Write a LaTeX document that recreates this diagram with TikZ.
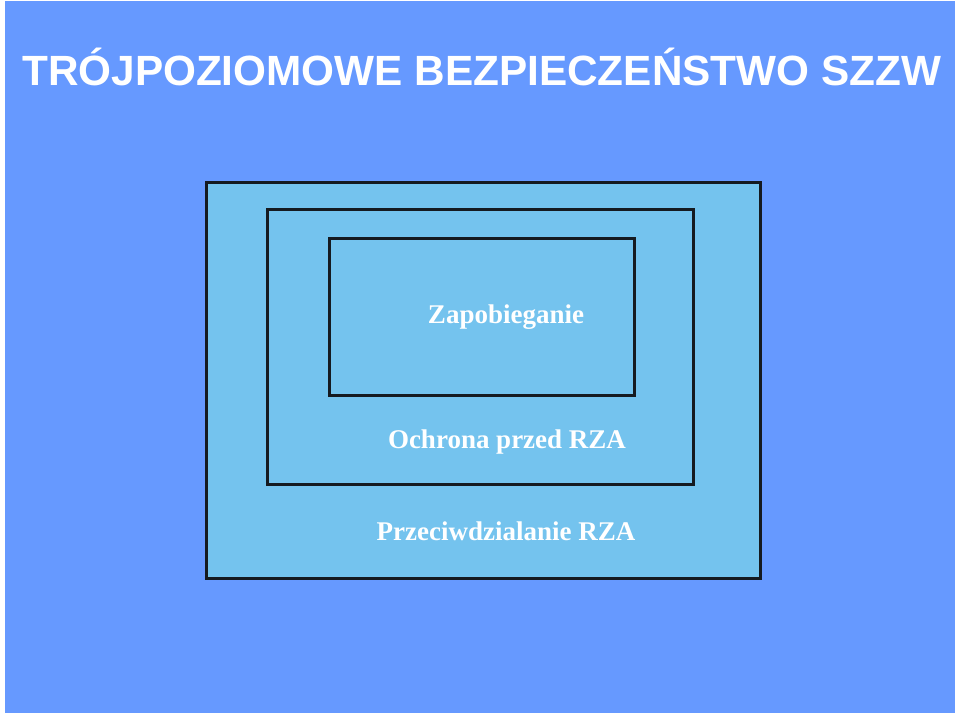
\documentclass[tikz,border=0pt]{standalone}
\usepackage{fontspec}
\setmainfont{Liberation Serif}
\newfontfamily\titlefont{Liberation Sans}
\definecolor{bgblue}{HTML}{6699FF}
\definecolor{boxblue}{HTML}{74C3EE}
\definecolor{edge}{HTML}{151A20}
\begin{document}
\begin{tikzpicture}[x=1pt,y=-1pt,
  layer/.style={draw=edge,line width=3pt,fill=boxblue},
  lbl/.style={anchor=base,inner sep=0pt,text=white,font=\fontsize{27}{30}\selectfont\bfseries},
  ttl/.style={anchor=base west,inner sep=0pt,text=white,font=\titlefont\fontsize{42.3}{48}\selectfont\bfseries}]
\useasboundingbox (0,0) rectangle (960,716);
\fill[white] (0,0) rectangle (960,716);
\fill[bgblue] (5,1) rectangle (955,713);
\node[ttl] (title) at (22,85) {TRÓJPOZIOMOWE BEZPIECZEŃSTWO SZZW};
\draw[layer] (206,182) rectangle (760,578);
\draw[layer] (267,209) rectangle (693,484);
\draw[layer] (329,238) rectangle (634,395);
\node[lbl] (zap) at (506,323) {Zapobieganie};
\node[lbl] (ochr) at (507,448) {Ochrona przed RZA};
\node[lbl] (przec) at (506,540) {Przeciwdzialanie RZA};
\end{tikzpicture}
\end{document}
